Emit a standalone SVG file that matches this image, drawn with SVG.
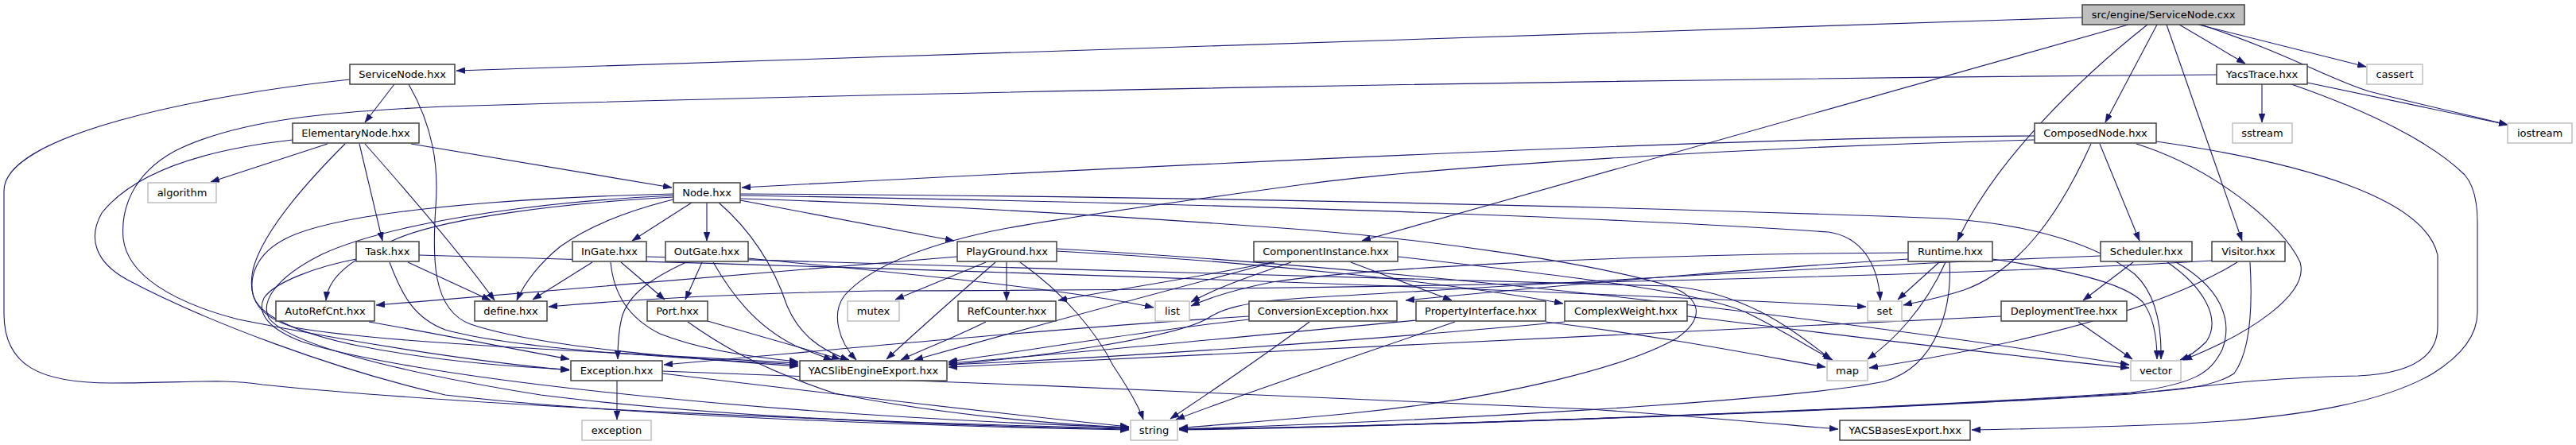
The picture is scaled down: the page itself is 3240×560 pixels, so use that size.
<svg xmlns="http://www.w3.org/2000/svg" width="3240" height="560" viewBox="0 0 3240 560">
<style>
.e{fill:none;stroke:#191970;stroke-width:1.1;marker-end:url(#arr)}
.nb rect{fill:#ffffff;stroke:#404040;stroke-width:1.5}
.ng rect{fill:#ffffff;stroke:#bfbfbf;stroke-width:1.5}
.nr rect{fill:#bfbfbf;stroke:#404040;stroke-width:1.5}
text{font-family:"DejaVu Sans","Liberation Sans",sans-serif;font-size:13px;text-anchor:middle;fill:#000000}
</style>
<defs>
<marker id="arr" markerUnits="userSpaceOnUse" markerWidth="11" markerHeight="8" refX="11" refY="4" orient="auto">
<path d="M0,0 L11,4 L0,8 z" fill="#191970" stroke="#191970" stroke-width="0.5"/>
</marker>
</defs>
<rect x="0" y="0" width="3240" height="560" fill="#ffffff"/>
<g id="edges">
<path id="e_root_ServiceNode" class="e" d="M2619,22 L574,89"/>
<path id="e_root_ComponentInstance" class="e" d="M2677,31 L1713,303"/>
<path id="e_root_Runtime" class="e" d="M2701,31 C2620,95 2510,200 2462,303"/>
<path id="e_root_ComposedNode" class="e" d="M2713,31 L2648,154"/>
<path id="e_root_Visitor" class="e" d="M2725,31 L2820,303"/>
<path id="e_root_YacsTrace" class="e" d="M2741,31 L2824,80"/>
<path id="e_root_cassert" class="e" d="M2765,31 L2976,84"/>
<path id="e_root_iostream" class="e" d="M2768,31 C2880,68 2930,100 2980,115 C3050,133 3110,146 3154,157"/>
<path id="e_ServiceNode_ElementaryNode" class="e" d="M496,106 L459,154"/>
<path id="e_ServiceNode_YACSlib" class="e" d="M514,106 C545,160 552,210 548,260 C544,320 542,390 592,408 C680,438 880,452 1004,461"/>
<path id="e_ServiceNode_string" class="e" d="M440,100 C250,120 5,170 5,240 L5,395 C5,460 50,482 140,482 C240,482 280,476 330,484 C600,512 1100,532 1420,539"/>
<path id="e_ElementaryNode_Node" class="e" d="M517,181 L845,236"/>
<path id="e_ElementaryNode_Task" class="e" d="M452,181 L481,303"/>
<path id="e_ElementaryNode_define" class="e" d="M459,181 C520,250 580,320 622,378"/>
<path id="e_ElementaryNode_algorithm" class="e" d="M412,181 L265,229"/>
<path id="e_ElementaryNode_string" class="e" d="M368,176 C260,188 170,215 128,268 C110,300 120,330 160,352 C260,405 420,465 560,497 C800,525 1200,537 1420,541"/>
<path id="e_ElementaryNode_YACSlib" class="e" d="M434,181 C390,225 330,290 318,340 C310,380 330,400 370,412 C480,432 750,442 1004,457"/>
<path id="e_Task_define" class="e" d="M513,330 L617,378"/>
<path id="e_Task_set" class="e" d="M527,321 C1000,334 1800,358 2347,386"/>
<path id="e_Task_YACSlib" class="e" d="M490,330 C505,370 520,400 560,415 C650,440 850,450 1004,459"/>
<path id="e_Task_string" class="e" d="M448,326 C400,335 345,355 332,375 C322,395 340,415 380,430 C500,470 900,520 1420,538"/>
<path id="e_Node_InGate" class="e" d="M870,255 L795,303"/>
<path id="e_Node_OutGate" class="e" d="M889,255 L889,303"/>
<path id="e_Node_define" class="e" d="M847,251 C790,265 740,285 705,310 C680,330 660,355 650,378"/>
<path id="e_Node_YACSlib" class="e" d="M904,255 C950,295 975,340 990,385 C1005,420 1030,440 1068,453"/>
<path id="e_Node_PlayGround" class="e" d="M931,252 L1200,303"/>
<path id="e_Node_AutoRefCnt" class="e" d="M847,248 C700,256 560,275 500,300 C430,330 412,355 410,378"/>
<path id="e_Node_Exception" class="e" d="M847,244 C600,250 420,270 360,300 C320,320 314,350 318,370 C325,400 380,420 450,435 C550,455 650,462 716,465"/>
<path id="e_Node_string_left" class="e" d="M847,246 C650,255 480,285 405,320 C345,350 328,380 338,400 C360,430 480,465 680,497 C900,525 1200,536 1420,540"/>
<path id="e_Node_vector" class="e" d="M931,244 C1400,246 2000,258 2446,275 C2560,282 2640,310 2685,345 C2712,370 2719,410 2718,452"/>
<path id="e_Node_set" class="e" d="M931,246 C1500,255 2000,272 2300,292 C2340,298 2362,330 2365,378"/>
<path id="e_Node_string" class="e" d="M931,250 C1200,258 1450,275 1640,289 C1800,302 2000,330 2100,360 C2140,375 2145,400 2110,425 C2050,460 1900,500 1700,520 C1600,530 1520,535 1483,539"/>
<path id="e_InGate_define" class="e" d="M745,330 L670,377"/>
<path id="e_InGate_Port" class="e" d="M781,330 L836,377"/>
<path id="e_InGate_YACSlib" class="e" d="M768,330 C772,370 790,400 830,420 C880,440 950,450 1004,455"/>
<path id="e_InGate_map" class="e" d="M813,323 C1200,338 1800,348 2100,360 C2200,368 2260,420 2303,452"/>
<path id="e_OutGate_Port" class="e" d="M883,330 L862,377"/>
<path id="e_OutGate_Exception" class="e" d="M863,330 C820,350 790,370 782,400 C777,420 777,440 777,452"/>
<path id="e_OutGate_YACSlib" class="e" d="M897,330 C920,370 950,410 1000,435 C1020,443 1033,448 1047,453"/>
<path id="e_OutGate_list" class="e" d="M941,325 C1150,345 1350,365 1451,387"/>
<path id="e_Port_YACSlib" class="e" d="M890,404 L1057,452"/>
<path id="e_Port_string" class="e" d="M865,405 C900,430 950,462 1050,495 C1200,525 1350,535 1420,538"/>
<path id="e_Exception_exception" class="e" d="M776,479 L776,528"/>
<path id="e_Exception_string" class="e" d="M833,470 C1000,490 1250,520 1420,537"/>
<path id="e_Exception_YACSBasesExport" class="e" d="M833,467 C1200,480 1800,505 2000,515 C2150,525 2250,535 2312,540"/>
<path id="e_AutoRefCnt_Exception" class="e" d="M464,405 C550,420 650,440 716,452"/>
<path id="e_PlayGround_RefCounter" class="e" d="M1266,330 L1266,378"/>
<path id="e_PlayGround_mutex" class="e" d="M1240,330 L1126,377"/>
<path id="e_PlayGround_YACSlib" class="e" d="M1252,330 C1200,375 1150,420 1115,452"/>
<path id="e_PlayGround_string" class="e" d="M1283,330 C1340,370 1380,420 1400,460 C1420,490 1432,510 1438,528"/>
<path id="e_PlayGround_AutoRefCnt" class="e" d="M1204,323 C1000,340 700,365 473,384"/>
<path id="e_PlayGround_ComplexWeight" class="e" d="M1329,316 C1600,330 1850,360 1966,382"/>
<path id="e_PlayGround_vector" class="e" d="M1329,313 C1800,340 2300,400 2678,459"/>
<path id="e_RefCounter_YACSlib" class="e" d="M1240,405 C1200,425 1160,440 1133,453"/>
<path id="e_ComponentInstance_PropertyInterface" class="e" d="M1699,330 L1826,378"/>
<path id="e_ComponentInstance_list" class="e" d="M1624,330 C1580,345 1530,362 1498,380"/>
<path id="e_ComponentInstance_RefCounter" class="e" d="M1600,330 C1500,350 1400,365 1331,378"/>
<path id="e_ComponentInstance_YACSlib" class="e" d="M1603,330 C1450,370 1250,425 1150,453"/>
<path id="e_ComponentInstance_map" class="e" d="M1758,323 C2000,350 2150,370 2200,395 C2250,420 2280,440 2305,453"/>
<path id="e_ConversionException_string" class="e" d="M1647,405 C1600,440 1520,495 1472,527"/>
<path id="e_ConversionException_YACSlib" class="e" d="M1571,402 C1450,415 1300,440 1193,455"/>
<path id="e_ConversionException_Exception" class="e" d="M1571,398 C1300,415 1000,445 835,459"/>
<path id="e_PropertyInterface_YACSlib" class="e" d="M1781,403 C1600,420 1350,445 1193,457"/>
<path id="e_PropertyInterface_string" class="e" d="M1830,405 C1700,450 1550,500 1479,528"/>
<path id="e_PropertyInterface_map" class="e" d="M1944,405 C2100,425 2200,445 2296,462"/>
<path id="e_ComplexWeight_YACSlib" class="e" d="M1968,405 C1700,430 1400,450 1193,459"/>
<path id="e_ComplexWeight_vector" class="e" d="M2122,398 C2300,420 2500,445 2678,463"/>
<path id="e_ComposedNode_Node" class="e" d="M2559,171 C2300,172 1800,190 933,236"/>
<path id="e_ComposedNode_YACSlib" class="e" d="M2559,176 C2200,185 1800,210 1640,232 C1450,258 1300,280 1247,291 C1150,312 1090,340 1062,372 C1045,395 1055,430 1077,453"/>
<path id="e_ComposedNode_Scheduler" class="e" d="M2641,181 L2691,303"/>
<path id="e_ComposedNode_set" class="e" d="M2630,181 C2590,270 2540,340 2470,365 C2430,378 2410,380 2394,384"/>
<path id="e_ComposedNode_vector" class="e" d="M2687,181 C2780,210 2870,280 2893,330 C2905,370 2830,420 2746,453"/>
<path id="e_ComposedNode_string" class="e" d="M2712,178 C2900,205 3050,250 3066,321 L3066,411 C3066,450 3030,470 2966,473 C2850,475 2780,485 2680,496 C2300,520 1700,538 1483,541"/>
<path id="e_Scheduler_DeploymentTree" class="e" d="M2683,330 L2620,378"/>
<path id="e_Scheduler_vector" class="e" d="M2726,330 C2770,360 2795,400 2775,430 C2765,440 2755,448 2742,453"/>
<path id="e_Scheduler_string" class="e" d="M2737,330 C2790,360 2810,400 2795,440 C2780,470 2760,483 2680,494 C2300,520 1700,538 1483,540"/>
<path id="e_Scheduler_YACSlib" class="e" d="M2642,322 C2300,335 1900,360 1640,375 C1560,380 1535,390 1520,400 C1480,425 1300,450 1193,459"/>
<path id="e_Runtime_ConversionException" class="e" d="M2400,326 C2250,335 2000,355 1768,378"/>
<path id="e_Runtime_list" class="e" d="M2400,318 C2000,320 1700,340 1600,355 C1550,365 1520,375 1498,385"/>
<path id="e_Runtime_set" class="e" d="M2439,330 L2387,377"/>
<path id="e_Runtime_map" class="e" d="M2447,330 C2420,390 2380,430 2349,452"/>
<path id="e_Runtime_string" class="e" d="M2452,330 C2455,380 2440,460 2370,480 C2250,505 1800,530 1483,540"/>
<path id="e_Runtime_vector" class="e" d="M2506,326 C2600,340 2670,355 2695,380 C2710,400 2713,430 2713,452"/>
<path id="e_DeploymentTree_vector" class="e" d="M2614,405 L2682,452"/>
<path id="e_DeploymentTree_YACSlib" class="e" d="M2517,398 C2200,415 1700,440 1193,462"/>
<path id="e_Visitor_define" class="e" d="M2782,328 C2500,345 1800,365 1100,366 C900,370 780,378 690,386"/>
<path id="e_Visitor_map" class="e" d="M2814,330 C2700,400 2500,440 2351,463"/>
<path id="e_Visitor_string" class="e" d="M2830,330 C2833,380 2832,440 2810,470 C2780,490 2720,492 2680,495 C2300,520 1700,538 1483,540"/>
<path id="e_YacsTrace_sstream" class="e" d="M2845,106 L2845,154"/>
<path id="e_YacsTrace_iostream" class="e" d="M2902,104 L3154,157"/>
<path id="e_YacsTrace_Exception" class="e" d="M2788,94 C2000,100 1200,115 560,134 C420,140 300,150 220,190 C165,220 152,265 155,300 C160,345 215,380 300,402 C450,432 600,455 716,466"/>
<path id="e_YacsTrace_YACSBasesExport" class="e" d="M2882,106 C2980,140 3060,180 3100,220 C3114,236 3116,260 3116,280 L3116,393 C3116,420 3100,445 3060,470 C3000,505 2900,525 2750,533 C2650,537 2550,540 2480,541"/>
</g>
<g id="node_root" class="nr"><rect x="2619" y="6" width="204" height="25"/><text x="2721" y="23">src/engine/ServiceNode.cxx</text></g>
<g id="node_ServiceNode_hxx" class="nb"><rect x="440" y="81" width="132" height="25"/><text x="506" y="98">ServiceNode.hxx</text></g>
<g id="node_YacsTrace" class="nb"><rect x="2788" y="81" width="114" height="25"/><text x="2845" y="98">YacsTrace.hxx</text></g>
<g id="node_cassert" class="ng"><rect x="2977" y="81" width="70" height="25"/><text x="3012" y="98">cassert</text></g>
<g id="node_ElementaryNode" class="nb"><rect x="368" y="155" width="159" height="25"/><text x="447.5" y="172">ElementaryNode.hxx</text></g>
<g id="node_ComposedNode" class="nb"><rect x="2559" y="155" width="153" height="25"/><text x="2635.5" y="172">ComposedNode.hxx</text></g>
<g id="node_sstream" class="ng"><rect x="2808" y="155" width="75" height="25"/><text x="2845.5" y="172">sstream</text></g>
<g id="node_iostream" class="ng"><rect x="3154" y="155" width="81" height="25"/><text x="3194.5" y="172">iostream</text></g>
<g id="node_algorithm" class="ng"><rect x="186" y="230" width="86" height="25"/><text x="229" y="247">algorithm</text></g>
<g id="node_Node" class="nb"><rect x="847" y="230" width="84" height="25"/><text x="889" y="247">Node.hxx</text></g>
<g id="node_Task" class="nb"><rect x="448" y="304" width="79" height="25"/><text x="487.5" y="321">Task.hxx</text></g>
<g id="node_InGate" class="nb"><rect x="720" y="304" width="93" height="25"/><text x="766.5" y="321">InGate.hxx</text></g>
<g id="node_OutGate" class="nb"><rect x="837" y="304" width="104" height="25"/><text x="889" y="321">OutGate.hxx</text></g>
<g id="node_PlayGround" class="nb"><rect x="1204" y="304" width="125" height="25"/><text x="1266.5" y="321">PlayGround.hxx</text></g>
<g id="node_ComponentInstance" class="nb"><rect x="1577" y="304" width="181" height="25"/><text x="1667.5" y="321">ComponentInstance.hxx</text></g>
<g id="node_Runtime" class="nb"><rect x="2400" y="304" width="106" height="25"/><text x="2453" y="321">Runtime.hxx</text></g>
<g id="node_Scheduler" class="nb"><rect x="2642" y="304" width="115" height="25"/><text x="2699.5" y="321">Scheduler.hxx</text></g>
<g id="node_Visitor" class="nb"><rect x="2782" y="304" width="92" height="25"/><text x="2828" y="321">Visitor.hxx</text></g>
<g id="node_AutoRefCnt" class="nb"><rect x="347" y="379" width="124" height="25"/><text x="409" y="396">AutoRefCnt.hxx</text></g>
<g id="node_define" class="nb"><rect x="597" y="379" width="91" height="25"/><text x="642.5" y="396">define.hxx</text></g>
<g id="node_Port" class="nb"><rect x="814" y="379" width="76" height="25"/><text x="852" y="396">Port.hxx</text></g>
<g id="node_mutex" class="ng"><rect x="1066" y="379" width="65" height="25"/><text x="1098.5" y="396">mutex</text></g>
<g id="node_RefCounter" class="nb"><rect x="1205" y="379" width="123" height="25"/><text x="1266.5" y="396">RefCounter.hxx</text></g>
<g id="node_list" class="ng"><rect x="1453" y="379" width="43" height="25"/><text x="1474.5" y="396">list</text></g>
<g id="node_ConversionException" class="nb"><rect x="1571" y="379" width="186" height="25"/><text x="1664" y="396">ConversionException.hxx</text></g>
<g id="node_PropertyInterface" class="nb"><rect x="1781" y="379" width="163" height="25"/><text x="1862.5" y="396">PropertyInterface.hxx</text></g>
<g id="node_ComplexWeight" class="nb"><rect x="1968" y="379" width="154" height="25"/><text x="2045" y="396">ComplexWeight.hxx</text></g>
<g id="node_set" class="ng"><rect x="2349" y="379" width="43" height="25"/><text x="2370.5" y="396">set</text></g>
<g id="node_DeploymentTree" class="nb"><rect x="2517" y="379" width="158" height="25"/><text x="2596" y="396">DeploymentTree.hxx</text></g>
<g id="node_Exception" class="nb"><rect x="718" y="454" width="115" height="25"/><text x="775.5" y="471">Exception.hxx</text></g>
<g id="node_YACSlibEngineExport" class="nb"><rect x="1006" y="454" width="185" height="25"/><text x="1098.5" y="471">YACSlibEngineExport.hxx</text></g>
<g id="node_map" class="ng"><rect x="2298" y="454" width="51" height="25"/><text x="2323.5" y="471">map</text></g>
<g id="node_vector" class="ng"><rect x="2680" y="454" width="63" height="25"/><text x="2711.5" y="471">vector</text></g>
<g id="node_exception" class="ng"><rect x="732" y="529" width="87" height="25"/><text x="775.5" y="546">exception</text></g>
<g id="node_string" class="ng"><rect x="1422" y="529" width="59" height="25"/><text x="1451.5" y="546">string</text></g>
<g id="node_YACSBasesExport" class="nb"><rect x="2314" y="529" width="164" height="25"/><text x="2396" y="546">YACSBasesExport.hxx</text></g>
</svg>
